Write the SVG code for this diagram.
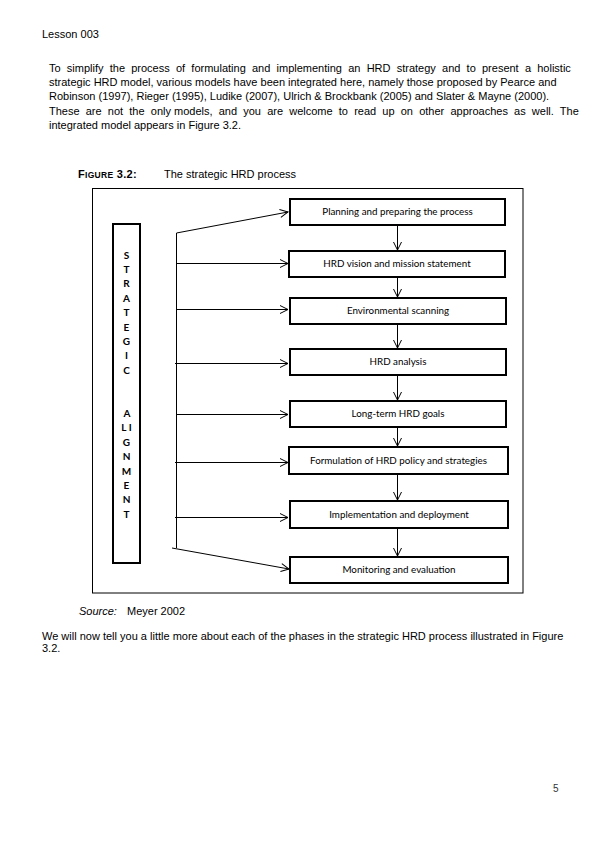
<svg xmlns="http://www.w3.org/2000/svg" width="597" height="843" viewBox="0 0 597 843">
<style>
.body{font-family:"Liberation Sans",Arial,sans-serif;font-size:11px;fill:#000}
.box{fill:#fff;stroke:#000;stroke-width:2}
.lbl{font-family:Lato,"Open Sans",sans-serif;font-size:9.8px;fill:#000;text-anchor:middle}
.let{font-family:Lato,"Open Sans",sans-serif;font-size:10px;font-weight:bold;fill:#000;text-anchor:middle}
.con{stroke:#000;stroke-width:1;fill:none}
.arr{marker-end:url(#ah)}
</style>
<defs>
<marker id="ah" markerWidth="10" markerHeight="10" refX="8" refY="4" orient="auto" markerUnits="userSpaceOnUse" overflow="visible">
<path d="M0,0 L8,4 L0,8" fill="none" stroke="#000" stroke-width="1"/>
</marker>
</defs>
<rect width="597" height="843" fill="#fff"/>

<text class="body" x="42" y="38">Lesson 003</text>

<text class="body" x="49" y="72" word-spacing="3.16">To simplify the process of formulating and implementing an HRD strategy and to present a holistic</text>
<text class="body" x="49" y="86">strategic HRD model, various models have been integrated here, namely those proposed by Pearce and</text>
<text class="body" x="49" y="100">Robinson (1997), Rieger (1995), Ludike (2007), Ulrich &amp; Brockbank (2005) and Slater &amp; Mayne (2000).</text>
<text class="body" x="49" y="114.5" word-spacing="3.12">These are not the only<tspan word-spacing="0"> </tspan>models, and you are welcome to read up on other approaches as well. The</text>
<text class="body" x="49" y="129">integrated model appears in Figure 3.2.</text>

<text class="body" x="78" y="178" font-weight="bold" letter-spacing="0.3">F<tspan font-size="8.5px">IGURE</tspan> 3.2:</text>
<text class="body" x="164" y="178">The strategic HRD process</text>

<rect id="frame" x="92.5" y="188.5" width="430.5" height="404.5" fill="none" stroke="#000" stroke-width="1"/>

<g id="strategic-alignment">
<rect class="box" x="113" y="224" width="27" height="339"/>
<text class="let" x="126.5" y="258.5">S</text>
<text class="let" x="126.5" y="272.9">T</text>
<text class="let" x="126.5" y="287.3">R</text>
<text class="let" x="126.5" y="301.7">A</text>
<text class="let" x="126.5" y="316.1">T</text>
<text class="let" x="126.5" y="330.5">E</text>
<text class="let" x="126.5" y="344.9">G</text>
<text class="let" x="126.5" y="359.3">I</text>
<text class="let" x="126.5" y="373.7">C</text>
<text class="let" x="127" y="417">A</text>
<text class="let" x="126.5" y="431.4">L I</text>
<text class="let" x="126.5" y="445.8">G</text>
<text class="let" x="126.5" y="460.2">N</text>
<text class="let" x="126.5" y="474.6">M</text>
<text class="let" x="126.5" y="489">E</text>
<text class="let" x="126.5" y="503.4">N</text>
<text class="let" x="126.5" y="517.8">T</text>
</g>

<g id="n1"><rect class="box" x="290" y="199" width="215" height="26"/><text class="lbl" x="397.5" y="215.3">Planning and preparing the process</text></g>
<g id="n2"><rect class="box" x="289" y="251" width="216" height="26"/><text class="lbl" x="397" y="267.3">HRD vision and mission statement</text></g>
<g id="n3"><rect class="box" x="290" y="298" width="216" height="26"/><text class="lbl" x="398" y="314.3">Environmental scanning</text></g>
<g id="n4"><rect class="box" x="290" y="349" width="216" height="26"/><text class="lbl" x="398" y="365.3">HRD analysis</text></g>
<g id="n5"><rect class="box" x="290" y="401" width="216" height="26"/><text class="lbl" x="398" y="417.3">Long-term HRD goals</text></g>
<g id="n6"><rect class="box" x="289" y="447" width="219" height="27"/><text class="lbl" x="398.5" y="463.8">Formulation of HRD policy and strategies</text></g>
<g id="n7"><rect class="box" x="290" y="501" width="218" height="27"/><text class="lbl" x="399" y="517.8">Implementation and deployment</text></g>
<g id="n8"><rect class="box" x="290" y="557" width="218" height="26"/><text class="lbl" x="399" y="573.3">Monitoring and evaluation</text></g>

<g id="connectors">
<line class="con" x1="176.5" y1="233" x2="176.5" y2="548"/>
<line class="con arr" x1="176.5" y1="233" x2="288" y2="212"/>
<line class="con arr" x1="176.5" y1="263.5" x2="288" y2="263.5"/>
<line class="con arr" x1="176.5" y1="309.5" x2="288" y2="309.5"/>
<line class="con arr" x1="175" y1="363.5" x2="288" y2="363.5"/>
<line class="con arr" x1="176.5" y1="414.5" x2="288" y2="414.5"/>
<line class="con arr" x1="175" y1="462.5" x2="288" y2="462.5"/>
<line class="con arr" x1="175" y1="517.5" x2="288" y2="517.5"/>
<line class="con arr" x1="172" y1="548" x2="289" y2="569"/>
<line class="con arr" x1="397.5" y1="226" x2="397.5" y2="250"/>
<line class="con arr" x1="397.5" y1="278" x2="397.5" y2="297"/>
<line class="con arr" x1="397.5" y1="325" x2="397.5" y2="348"/>
<line class="con arr" x1="397.5" y1="376" x2="397.5" y2="400"/>
<line class="con arr" x1="397.5" y1="428" x2="397.5" y2="446"/>
<line class="con arr" x1="397.5" y1="475" x2="397.5" y2="500"/>
<line class="con arr" x1="397.5" y1="529" x2="397.5" y2="556"/>
</g>

<text class="body" x="79" y="615" font-style="italic">Source:</text>
<text class="body" x="127" y="615">Meyer 2002</text>

<text class="body" x="42" y="640">We will now tell you a little more about each of the phases in the strategic HRD process illustrated in Figure</text>
<text class="body" x="42" y="652">3.2.</text>

<text x="553" y="792" font-family="Liberation Sans, Arial, sans-serif" font-size="10" fill="#333">5</text>
</svg>
